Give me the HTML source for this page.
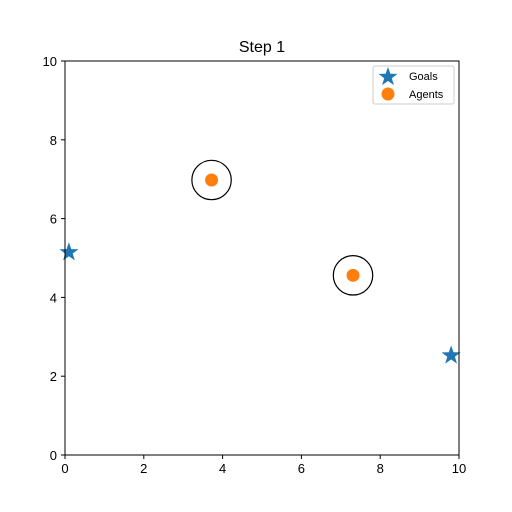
<!DOCTYPE html>
<html><head><meta charset="utf-8"><style>
body{margin:0;background:#fff}
svg{display:block;font-family:"Liberation Sans","DejaVu Sans",sans-serif}
</style></head><body>
<svg id="chart" width="512" height="512">
<rect width="512" height="512" fill="#fff"/>
<text x="262" y="52" font-size="16" text-anchor="middle">Step 1</text>
<g id="marks"></g>
<g id="axes"></g>
<g>
<rect x="373" y="66" width="81" height="38" rx="2" fill="#fff" stroke="#ccc"/>
<g id="legstar"></g>
<text x="409" y="80" font-size="11">Goals</text>
<circle cx="388" cy="94" r="6.5" fill="#ff7f0e"/>
<text x="409" y="98" font-size="11">Agents</text>
</g>
</svg>
<script>
const xTicks=[0,2,4,6,8,10];
const yTicks=[0,2,4,6,8,10];
const goalsX=[0.1,9.8];
const goalsY=[5.17,2.55];
const agentsX=[3.72,7.31];
const agentsY=[6.98,4.56];
const agentRadius=[0.5,0.5];
const L=65,R=459,T=61,B=455;
const sx=v=>L+(R-L)*v/10, sy=v=>B-(B-T)*v/10;
const NS="http://www.w3.org/2000/svg";
function mk(tag,attrs,parent,text){const e=document.createElementNS(NS,tag);for(const k in attrs)e.setAttribute(k,attrs[k]);if(text!==undefined)e.textContent=text;parent.appendChild(e);return e;}
function star(cx,cy,ro){const ri=ro*0.4;let p=[];for(let k=0;k<10;k++){const a=-Math.PI/2+k*Math.PI/5,r=k%2?ri:ro;p.push((cx+r*Math.cos(a)).toFixed(1)+','+(cy+r*Math.sin(a)).toFixed(1));}return p.join(' ');}
const marks=document.getElementById('marks'),axes=document.getElementById('axes');
agentsX.forEach((x,i)=>{
 const c=mk('circle',{cx:sx(x),cy:sy(agentsY[i]),r:(R-L)*agentRadius[i]/10,fill:'none',stroke:'#000','stroke-width':1.2},marks);
 
 
 const d=mk('circle',{cx:sx(x),cy:sy(agentsY[i]),r:6.5,fill:'#ff7f0e'},marks);
 
 
});
goalsX.forEach((x,i)=>{
 const s=mk('polygon',{points:star(sx(x),sy(goalsY[i])+1,10),fill:'#1f77b4'},marks);
 
 
});
mk('polygon',{points:star(388,77,10),fill:'#1f77b4'},document.getElementById('legstar'));
const fr=mk('rect',{x:L,y:T,width:R-L,height:B-T,fill:'none',stroke:'#000','stroke-width':1},axes);


xTicks.forEach(v=>{
 mk('line',{x1:sx(v),x2:sx(v),y1:B,y2:B+4,stroke:'#000'},axes);
 const t=mk('text',{x:sx(v),y:B+18,'font-size':13,'text-anchor':'middle'},axes,String(v));
 
 
});
yTicks.forEach(v=>{
 mk('line',{x1:L-4,x2:L,y1:sy(v),y2:sy(v),stroke:'#000'},axes);
 const t=mk('text',{x:L-8,y:sy(v)+5,'font-size':13,'text-anchor':'end'},axes,String(v));
 
 
});
</script>
</body></html>
